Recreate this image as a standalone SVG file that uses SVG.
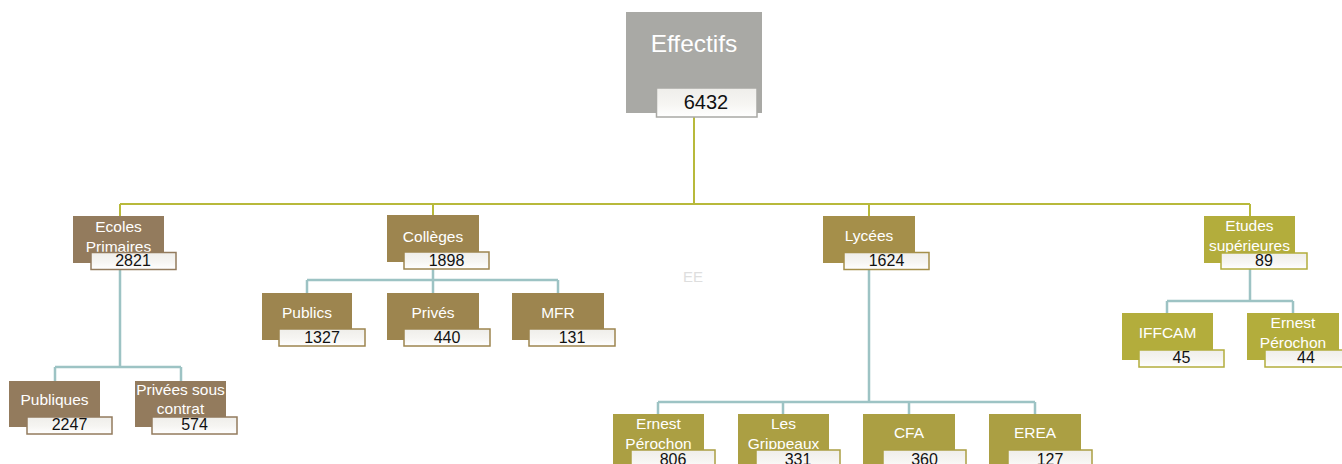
<svg xmlns="http://www.w3.org/2000/svg" width="1342" height="464" viewBox="0 0 1342 464">
<defs>
<linearGradient id="nb" x1="0" y1="0" x2="0" y2="1">
<stop offset="0" stop-color="#efeeea"/>
<stop offset="0.55" stop-color="#f6f5f2"/>
<stop offset="1" stop-color="#ffffff"/>
</linearGradient>
<style>
text{font-family:"Liberation Sans","Open Sans",sans-serif;text-anchor:middle}
.lbl{fill:#ffffff;font-size:15.5px}
.num{fill:#111111;font-size:16px}
.nb{fill:url(#nb);stroke-width:1.5}
.c1{fill:#937b5d}.s1{stroke:#937b5d}
.c2{fill:#9d854f}.s2{stroke:#9d854f}
.c3{fill:#a58f4a}.s3{stroke:#a58f4a}
.c4{fill:#ab9f43}.s4{stroke:#ab9f43}
.c5{fill:#b3ad3c}.s5{stroke:#b3ad3c}
.top{fill:none;stroke:#b8b93b;stroke-width:2}
.sub{fill:none;stroke:#9dc3c4;stroke-width:2.5}
</style>
</defs>
<rect width="1342" height="464" fill="#ffffff"/>
<g id="connectors">
<path class="top" d="M694 117V204M120 204H1250M120 204V216M433 204V215M869 204V216M1250 204V216"/>
<path class="sub" d="M120 270V367M55 367H181M55 367V381M181 367V381"/>
<path class="sub" d="M433 269V280M307 280H558M307 280V293M433 280V293M558 280V293"/>
<path class="sub" d="M869 270V402M658 402H1035M658 402V414M783 402V414M909 402V414M1035 402V414"/>
<path class="sub" d="M1250 269V301M1167 301H1293M1167 301V313M1293 301V313"/>
</g>
<g id="effectifs">
<rect x="626" y="12" width="136" height="101" fill="#a9a9a5"/>
<text x="694" y="52" fill="#ffffff" style="font-size:24.5px">Effectifs</text>
<rect x="656.5" y="88" width="100.5" height="29" fill="url(#nb)" stroke="#a9a9a5" stroke-width="1.5"/>
<text x="706" y="109" style="font-size:20px;fill:#111">6432</text>
</g>
<g id="ecoles">
<rect class="c1" x="73" y="216" width="91" height="47"/>
<text class="lbl" x="118.5" y="232">Ecoles</text>
<text class="lbl" x="118.5" y="252">Primaires</text>
<rect class="nb s1" x="91" y="252.5" width="85" height="17"/>
<text class="num" x="133" y="266">2821</text>
</g>
<g id="colleges">
<rect class="c2" x="387" y="215" width="92" height="47"/>
<text class="lbl" x="433" y="242">Collèges</text>
<rect class="nb s2" x="404" y="252" width="85" height="17"/>
<text class="num" x="446.5" y="266">1898</text>
</g>
<g id="lycees">
<rect class="c3" x="823" y="216" width="92" height="47"/>
<text class="lbl" x="869" y="241">Lycées</text>
<rect class="nb s3" x="844" y="252.5" width="85" height="17"/>
<text class="num" x="886.5" y="266">1624</text>
</g>
<g id="etudes">
<rect class="c5" x="1204" y="216" width="91" height="47"/>
<text class="lbl" x="1249.5" y="231">Etudes</text>
<text class="lbl" x="1249.5" y="251">supérieures</text>
<rect class="nb s5" x="1221" y="253" width="86" height="16"/>
<text class="num" x="1264" y="266">89</text>
</g>
<g id="publiques">
<rect class="c1" x="9" y="381" width="91" height="46"/>
<text class="lbl" x="54.5" y="405">Publiques</text>
<rect class="nb s1" x="27" y="417" width="85" height="17"/>
<text class="num" x="69.5" y="430">2247</text>
</g>
<g id="privees-sous-contrat">
<rect class="c1" x="135" y="381" width="91" height="46"/>
<text class="lbl" x="180.5" y="395">Privées sous</text>
<text class="lbl" x="180.5" y="414">contrat</text>
<rect class="nb s1" x="152" y="417" width="85" height="17"/>
<text class="num" x="194.5" y="430">574</text>
</g>
<g id="publics">
<rect class="c2" x="262" y="293" width="90" height="47"/>
<text class="lbl" x="307" y="318">Publics</text>
<rect class="nb s2" x="279" y="329" width="86" height="17"/>
<text class="num" x="322" y="343">1327</text>
</g>
<g id="prives">
<rect class="c2" x="387" y="293" width="92" height="47"/>
<text class="lbl" x="433" y="318">Privés</text>
<rect class="nb s2" x="404" y="329" width="86" height="17"/>
<text class="num" x="447" y="343">440</text>
</g>
<g id="mfr">
<rect class="c2" x="512" y="293" width="92" height="47"/>
<text class="lbl" x="558" y="318">MFR</text>
<rect class="nb s2" x="529" y="329" width="86" height="17"/>
<text class="num" x="572" y="343">131</text>
</g>
<g id="ernest-perochon-lycee">
<rect class="c4" x="613" y="414" width="91" height="52"/>
<text class="lbl" x="658.5" y="429">Ernest</text>
<text class="lbl" x="658.5" y="449">Pérochon</text>
<rect class="nb s4" x="631" y="450" width="84" height="20"/>
<text class="num" x="673" y="465">806</text>
</g>
<g id="les-grippeaux">
<rect class="c4" x="738" y="414" width="91" height="52"/>
<text class="lbl" x="783.5" y="429">Les</text>
<text class="lbl" x="783.5" y="449">Grippeaux</text>
<rect class="nb s4" x="756" y="450" width="84" height="20"/>
<text class="num" x="798" y="465">331</text>
</g>
<g id="cfa">
<rect class="c4" x="863" y="414" width="92" height="52"/>
<text class="lbl" x="909" y="438">CFA</text>
<rect class="nb s4" x="883" y="450" width="83" height="20"/>
<text class="num" x="924.5" y="465">360</text>
</g>
<g id="erea">
<rect class="c4" x="989" y="414" width="92" height="52"/>
<text class="lbl" x="1035" y="438">EREA</text>
<rect class="nb s4" x="1008" y="450" width="84" height="20"/>
<text class="num" x="1050" y="465">127</text>
</g>
<g id="iffcam">
<rect class="c5" x="1122" y="313" width="91" height="47"/>
<text class="lbl" x="1167.5" y="338">IFFCAM</text>
<rect class="nb s5" x="1139" y="350" width="85" height="17"/>
<text class="num" x="1181.5" y="363">45</text>
</g>
<g id="ernest-perochon-sup">
<rect class="c5" x="1247" y="313" width="92" height="47"/>
<text class="lbl" x="1293" y="328">Ernest</text>
<text class="lbl" x="1293" y="348">Pérochon</text>
<rect class="nb s5" x="1265" y="350" width="90" height="17"/>
<text class="num" x="1306" y="363">44</text>
</g>
<text x="693" y="282" style="font-size:15px;fill:#dedede">EE</text>
</svg>
